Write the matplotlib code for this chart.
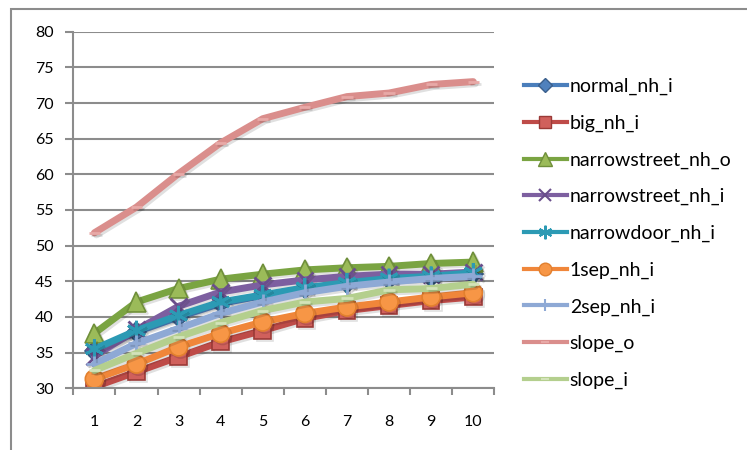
import matplotlib
matplotlib.use("Agg")
import matplotlib.pyplot as plt
import matplotlib.patheffects as pe
from matplotlib.patches import Rectangle
from matplotlib.lines import Line2D

x = [1, 2, 3, 4, 5, 6, 7, 8, 9, 10]
normal_nh_i = [35.2, 37.9, 40.0, 41.9, 43.0, 44.0, 44.7, 45.3, 45.6, 46.0]
big_nh_i = [30.2, 32.3, 34.4, 36.5, 38.1, 39.8, 40.9, 41.6, 42.3, 42.8]
narrowstreet_nh_o = [37.7, 42.1, 44.0, 45.3, 46.0, 46.6, 46.9, 47.1, 47.5, 47.7]
narrowstreet_nh_i = [34.5, 38.2, 41.5, 43.5, 44.5, 45.2, 45.7, 46.0, 46.0, 46.3]
narrowdoor_nh_i = [35.5, 38.1, 40.2, 42.1, 43.1, 44.1, 44.8, 45.4, 45.7, 46.2]
sep1_nh_i = [31.3, 33.4, 35.8, 37.7, 39.3, 40.5, 41.4, 42.1, 42.8, 43.4]
sep2_nh_i = [33.4, 36.3, 38.4, 40.5, 42.1, 43.4, 44.3, 44.9, 45.4, 45.7]
slope_o = [51.8, 55.4, 60.1, 64.4, 67.8, 69.4, 70.9, 71.4, 72.6, 73.0]
slope_i = [32.5, 34.9, 37.2, 39.2, 40.9, 42.1, 42.6, 43.8, 44.0, 44.6]

series = [
    ("normal_nh_i", normal_nh_i, "#4A7EBB", "D", "#4F81BD", "#3A5F8C", 10),
    ("big_nh_i", big_nh_i, "#BE4B48", "s", "#D0605C", "#9A3A37", 12),
    ("narrowstreet_nh_o", narrowstreet_nh_o, "#7AA442", "^", "#9BBB59", "#6F8F3A", 14),
    ("narrowstreet_nh_i", narrowstreet_nh_i, "#7D5FA0", "x", "#7D5FA0", "#6A4E8C", 12),
    ("narrowdoor_nh_i", narrowdoor_nh_i, "#2C9AB4", (6, 2, 0), "#2C9AB4", "#2C9AB4", 14),
    ("1sep_nh_i", sep1_nh_i, "#F0863A", "o", "#F79646", "#E2802E", 13),
    ("2sep_nh_i", sep2_nh_i, "#8EA9D5", "+", "#8EA9D5", "#8EA9D5", 12),
    ("slope_o", slope_o, "#DA8E8C", "_", "#E8A9A7", "#E8A9A7", 8),
    ("slope_i", slope_i, "#B4CF8E", "_", "#D3E3B9", "#D3E3B9", 8),
]

plt.rcParams['font.family'] = ['Lato', 'DejaVu Sans']

fig = plt.figure(figsize=(7.47, 4.5), dpi=100)
fig.patches.append(Rectangle((11 / 747, -0.01), 1.02, (450 - 9) / 450 + 0.01,
                             transform=fig.transFigure, fill=False,
                             edgecolor="#8C8C8C", linewidth=1.5, zorder=0))
ax = fig.add_axes([73.3 / 747, (450 - 388.3) / 450, (494.3 - 73.3) / 747, (388.3 - 31.7) / 450])

shadow = [pe.SimpleLineShadow(offset=(1.5, -1.5), alpha=0.12, shadow_color="k"), pe.Normal()]
handles = []
for name, vals, lc, mk, mfc, mec, ms in series:
    solid = mk in ("D", "s", "^", "o")
    ax.plot(x, vals, color=lc, linewidth=5, marker=mk, markersize=ms,
            markerfacecolor=mfc, markeredgecolor=mec,
            markeredgewidth=1.2 if solid else 2,
            solid_capstyle="round", solid_joinstyle="round", path_effects=shadow)
    handles.append(Line2D([], [], color=lc, linewidth=3, marker=mk,
                          markersize=ms * 0.7, markerfacecolor=mfc,
                          markeredgecolor=mec, markeredgewidth=1 if solid else 1.5,
                          label=name))

ax.set_xlim(0.5, 10.5)
ax.set_ylim(30, 80)
ax.set_yticks(range(30, 81, 5))
ax.set_xticks(x)
ax.set_xticks([i + 0.5 for i in range(0, 11)], minor=True)
ax.tick_params(axis="x", which="major", length=0, pad=19, labelsize=11.5)
ax.tick_params(axis="x", which="minor", length=5, width=1.5, color="#8C8C8C", direction="out")
ax.tick_params(axis="y", length=6, width=1.5, color="#8C8C8C", pad=8, labelsize=11.5)
ax.grid(axis="y", color="#8C8C8C", linewidth=1.5, zorder=0)
ax.set_axisbelow(True)
for s in ["top", "right"]:
    ax.spines[s].set_visible(False)
for s in ["left", "bottom"]:
    ax.spines[s].set_color("#8C8C8C")
    ax.spines[s].set_linewidth(1.5)

leg = fig.legend(handles=handles, loc="upper left", bbox_to_anchor=(524 / 747, 1 - 78 / 450),
                 frameon=False, fontsize=14, handlelength=2.2, handletextpad=0.15,
                 labelspacing=1.0, borderaxespad=0, borderpad=0)

fig.savefig("out.png", dpi=100)
